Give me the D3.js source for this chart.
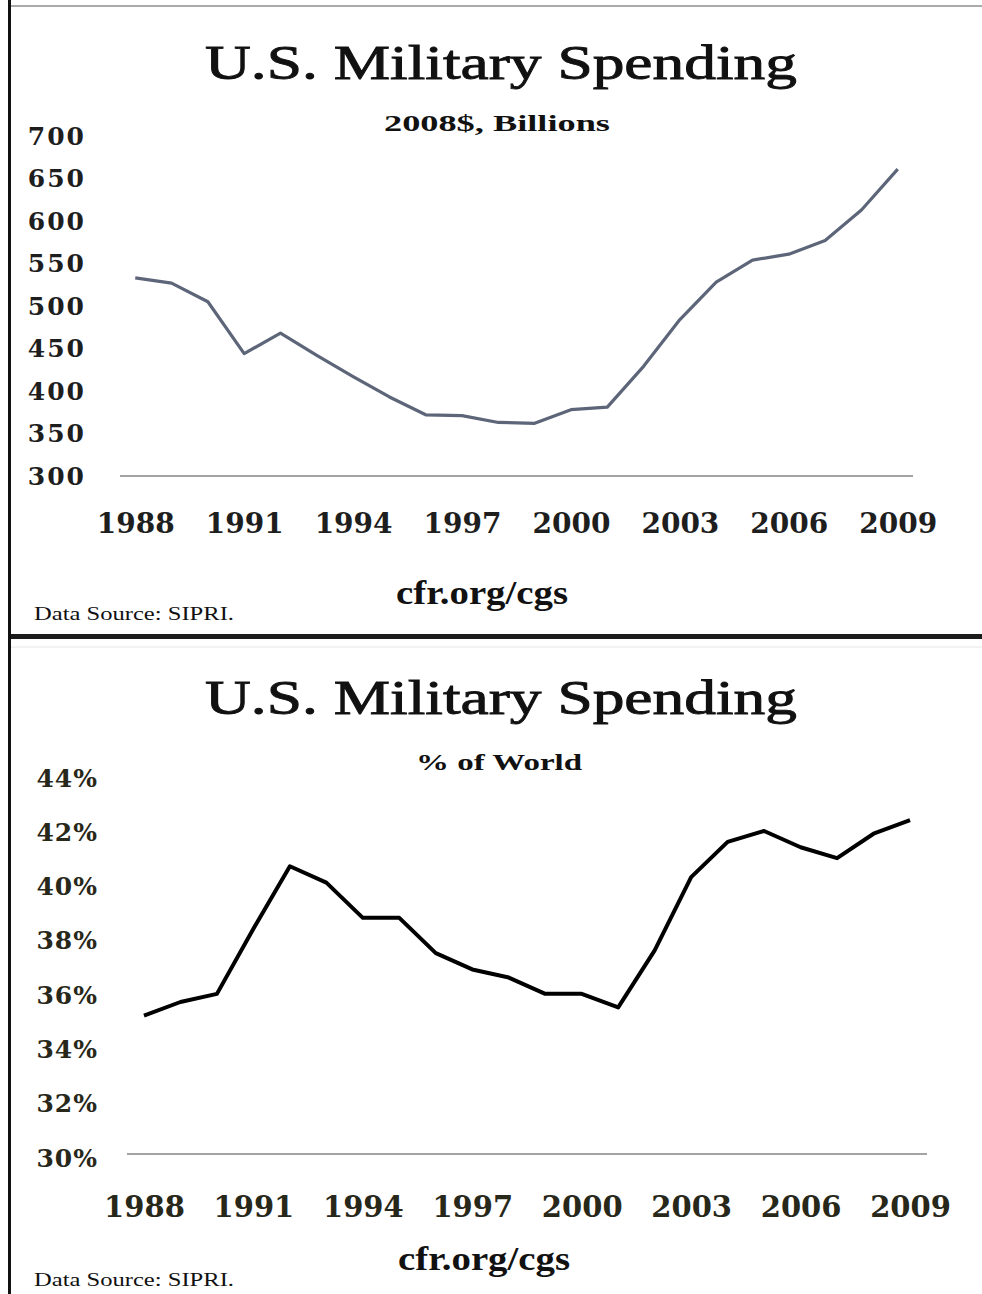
<!DOCTYPE html>
<html>
<head>
<meta charset="utf-8">
<script src="https://cdn.jsdelivr.net/npm/d3@7"></script>
<style>
  body { margin: 0; background: #fff; }
  svg { display: block; }
  .title { font-family: "Liberation Serif", serif; fill: #111; }
  .tick text { font-family: "DejaVu Serif", serif; font-weight: bold; }
</style>
</head>
<body>
<div id="chart"></div>
<script>
// data
const years = [1988, 1989, 1990, 1991, 1992, 1993, 1994, 1995, 1996, 1997, 1998,
  1999, 2000, 2001, 2002, 2003, 2004, 2005, 2006, 2007, 2008, 2009];
const spendingBillions = [533, 527, 505, 444, 468, 442, 417, 393, 372, 371, 363,
  362, 378, 381, 429, 484, 528, 554, 561, 577, 613, 661];
const worldShare = [35.1, 35.6, 35.9, 38.3, 40.6, 40.0, 38.7, 38.7, 37.4, 36.8, 36.5,
  35.9, 35.9, 35.4, 37.5, 40.2, 41.5, 41.9, 41.3, 40.9, 41.8, 42.3];
const yearTicks = [1988, 1991, 1994, 1997, 2000, 2003, 2006, 2009];
const spendingTicks = [300, 350, 400, 450, 500, 550, 600, 650, 700];
const shareTicks = [30, 32, 34, 36, 38, 40, 42, 44];

const [width, height] = [982, 1294];

const svg = d3.select('#chart')
  .append('svg')
  .attr('width', width)
  .attr('height', height);

// frame lines
svg.append('line')
  .attr('x1', 10).attr('x2', width).attr('y1', 6).attr('y2', 6)
  .attr('stroke', '#aaa').attr('stroke-width', 2);
svg.append('line')
  .attr('x1', 10).attr('x2', width).attr('y1', 636.5).attr('y2', 636.5)
  .attr('stroke', '#1c1c1c').attr('stroke-width', 5);
svg.append('line')
  .attr('x1', 10).attr('x2', width).attr('y1', 647).attr('y2', 647)
  .attr('stroke', '#e6e6e6').attr('stroke-width', 1);
svg.append('line')
  .attr('x1', 9.5).attr('x2', 9.5).attr('y1', 0).attr('y2', height)
  .attr('stroke', '#111').attr('stroke-width', 3);

const drawPanel = (p) => {
  const g = svg.append('g');

  const x = d3.scalePoint()
    .domain(years)
    .range([p.left, p.right])
    .padding(p.padding);

  const y = d3.scaleLinear()
    .domain(d3.extent(p.ticks))
    .range([p.bottom, p.top]);

  // titles
  g.append('text')
    .attr('class', 'title')
    .attr('x', 501).attr('y', p.titleY)
    .attr('text-anchor', 'middle')
    .attr('font-size', 49)
    .attr('stroke', '#111')
    .attr('stroke-width', 0.9)
    .attr('textLength', 592)
    .attr('lengthAdjust', 'spacingAndGlyphs')
    .text('U.S. Military Spending');

  g.append('text')
    .attr('class', 'title')
    .attr('x', p.subX).attr('y', p.subY)
    .attr('text-anchor', 'middle')
    .attr('font-size', 24)
    .attr('font-weight', 'bold')
    .attr('textLength', p.subW)
    .attr('lengthAdjust', 'spacingAndGlyphs')
    .text(p.subtitle);

  // baseline
  g.append('line')
    .attr('x1', p.left).attr('x2', p.right)
    .attr('y1', y(p.ticks[0])).attr('y2', y(p.ticks[0]))
    .attr('stroke', '#a3a3a3').attr('stroke-width', 2);

  // y axis
  const yAxis = g.append('g')
    .attr('transform', `translate(${p.yAxisX},0)`)
    .call(d3.axisLeft(y).tickValues(p.ticks).tickSize(0).tickPadding(0).tickFormat(p.fmt));
  yAxis.select('.domain').remove();
  yAxis.selectAll('text')
    .attr('font-size', 25)
    .attr('letter-spacing', p.ySpacing)
    .attr('fill', p.labelColor)
    .attr('y', p.yLabelShift);

  // x axis
  const xAxis = g.append('g')
    .attr('transform', `translate(0,${p.xLabelY})`)
    .call(d3.axisBottom(x).tickValues(yearTicks).tickSize(0).tickPadding(0));
  xAxis.select('.domain').remove();
  xAxis.selectAll('text')
    .attr('font-size', p.xFont)
    .attr('fill', p.labelColor)
    .attr('dy', 0)
    .attr('y', 0);

  // line
  const line = d3.line()
    .x((d, i) => x(years[i]))
    .y((d) => y(d));

  g.append('path')
    .datum(p.values)
    .attr('fill', 'none')
    .attr('stroke', p.lineColor)
    .attr('stroke-width', p.lineWidth)
    .attr('stroke-linejoin', 'round')
    .attr('d', line);

  // footer
  g.append('text')
    .attr('class', 'title')
    .attr('x', p.cfrX).attr('y', p.cfrY)
    .attr('text-anchor', 'middle')
    .attr('font-size', 34)
    .attr('font-weight', 'bold')
    .attr('textLength', 172)
    .attr('lengthAdjust', 'spacingAndGlyphs')
    .text('cfr.org/cgs');

  g.append('text')
    .attr('class', 'title')
    .attr('x', 34).attr('y', p.srcY)
    .attr('font-size', 18)
    .attr('textLength', 200)
    .attr('lengthAdjust', 'spacingAndGlyphs')
    .text('Data Source: SIPRI.');
};

drawPanel({
  values: spendingBillions, ticks: spendingTicks, fmt: d3.format('d'),
  subtitle: '2008$, Billions', subX: 497, subW: 226,
  left: 120, right: 913, padding: 0.42, top: 136, bottom: 476,
  titleY: 79, subY: 131, yAxisX: 86, ySpacing: 2, yLabelShift: 0,
  xLabelY: 533, xFont: 28, labelColor: '#1e1e1e',
  lineColor: '#5d6579', lineWidth: 3.2,
  cfrX: 482, cfrY: 604, srcY: 620
});

drawPanel({
  values: worldShare, ticks: shareTicks, fmt: (d) => d + '%',
  subtitle: '% of World', subX: 499, subW: 166,
  left: 127, right: 927, padding: 0.465, top: 774, bottom: 1154,
  titleY: 714, subY: 770, yAxisX: 98, ySpacing: 1, yLabelShift: 4,
  xLabelY: 1217, xFont: 29, labelColor: '#28281a',
  lineColor: '#000', lineWidth: 4,
  cfrX: 484, cfrY: 1270, srcY: 1286
});
</script>
</body>
</html>
